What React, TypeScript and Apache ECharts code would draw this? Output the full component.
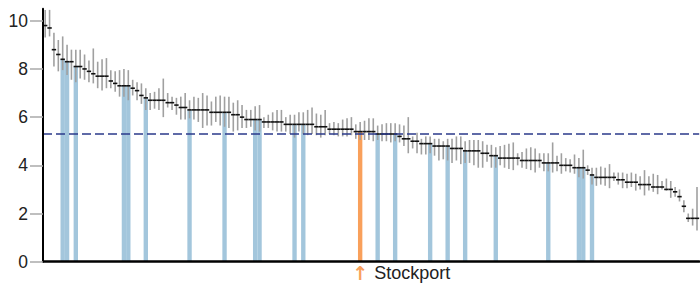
import React, { useEffect, useRef } from "react";
import * as echarts from "echarts";

const focusName = "Stockport";
const focusIndex = 72;

const categories: string[] = Array.from({ length: 150 }, (_, i) =>
  i === focusIndex ? focusName : `Area ${i + 1}`
);

const values = [
  9.8, 9.7, 8.8, 8.6, 8.4, 8.3, 8.3, 8.1, 8.1, 8.0,
  7.9, 7.8, 7.7, 7.7, 7.7, 7.5, 7.4, 7.3, 7.3, 7.3,
  7.2, 7.1, 6.9, 6.8, 6.7, 6.7, 6.7, 6.7, 6.6, 6.6,
  6.5, 6.4, 6.4, 6.3, 6.3, 6.3, 6.3, 6.3, 6.2, 6.2,
  6.2, 6.2, 6.2, 6.1, 6.1, 6.0, 5.9, 5.9, 5.9, 5.9,
  5.8, 5.8, 5.8, 5.8, 5.8, 5.7, 5.7, 5.7, 5.7, 5.7,
  5.7, 5.7, 5.6, 5.6, 5.6, 5.5, 5.5, 5.5, 5.5, 5.5,
  5.5, 5.4, 5.4, 5.4, 5.4, 5.4, 5.3, 5.3, 5.3, 5.3,
  5.3, 5.2, 5.1, 5.1, 5.0, 5.0, 4.9, 4.9, 4.9, 4.8,
  4.8, 4.8, 4.8, 4.7, 4.7, 4.7, 4.6, 4.6, 4.6, 4.6,
  4.5, 4.5, 4.4, 4.4, 4.3, 4.3, 4.3, 4.3, 4.3, 4.2,
  4.2, 4.2, 4.2, 4.2, 4.1, 4.1, 4.1, 4.1, 4.0, 4.0,
  4.0, 3.9, 3.9, 3.9, 3.8, 3.6, 3.5, 3.5, 3.5, 3.5,
  3.5, 3.4, 3.4, 3.3, 3.3, 3.3, 3.2, 3.2, 3.2, 3.1,
  3.1, 3.1, 3.0, 3.0, 2.9, 2.7, 2.3, 1.8, 1.8, 1.8,
];

const lower = [
  9.3, 9.35, 8.1, 7.9, 7.95, 7.75, 7.55, 7.45, 7.6, 7.55,
  7.45, 7.4, 7.2, 7.1, 7.2, 7.2, 7.05, 6.85, 6.85, 6.7,
  6.9, 6.7, 6.55, 6.3, 6.3, 6.35, 6.3, 6.0, 6.4, 6.3,
  6.1, 5.9, 5.9, 5.95, 5.9, 5.8, 5.55, 5.65, 5.65, 5.8,
  5.65, 5.6, 5.55, 5.4, 5.45, 5.55, 5.55, 5.6, 5.45, 5.4,
  5.55, 5.55, 5.45, 5.4, 5.4, 5.4, 5.3, 5.15, 5.4, 5.3,
  5.25, 5.3, 5.25, 5.15, 5.25, 5.3, 5.25, 5.2, 5.2, 5.2,
  5.25, 5.1, 5.05, 5.05, 5.05, 5.0, 5.05, 5.0, 5.0, 4.95,
  5.0, 4.95, 4.8, 4.5, 4.7, 4.5, 4.45, 4.45, 4.5, 4.4,
  4.2, 4.25, 4.2, 4.1, 4.2, 4.05, 4.1, 4.1, 4.0, 3.9,
  3.9, 4.15, 3.9, 3.9, 4.0, 3.9, 3.85, 3.8, 4.0, 3.9,
  3.85, 3.8, 3.7, 3.9, 3.75, 3.75, 3.7, 3.75, 3.65, 3.75,
  3.7, 3.65, 3.5, 3.45, 3.6, 3.2, 3.15, 3.2, 3.15, 3.05,
  3.35, 3.2, 3.05, 3.05, 3.1, 2.95, 3.0, 2.75, 2.95, 2.9,
  2.8, 3.0, 2.95, 2.65, 2.7, 2.5, 2.05, 1.65, 1.5, 1.3,
];

const upper = [
  10.45, 10.45, 9.5, 9.2, 9.35, 9.0, 8.8, 8.8, 8.8, 8.6,
  8.35, 8.85, 8.3, 8.4, 8.45, 7.95, 7.9, 7.95, 8.0, 7.95,
  7.55, 7.45, 7.4, 7.2, 7.0, 7.05, 7.2, 7.6, 7.0, 6.85,
  6.8, 6.85, 7.0, 6.7, 6.85, 6.8, 7.0, 6.9, 6.65, 6.85,
  6.9, 6.85, 6.85, 6.6, 6.7, 6.5, 6.3, 6.3, 6.45, 6.5,
  6.0, 6.1, 6.2, 6.3, 6.3, 6.0, 6.1, 6.1, 6.2, 6.2,
  6.3, 6.4, 6.15, 6.1, 6.3, 5.75, 5.8, 5.75, 5.9, 5.95,
  6.0, 5.7, 5.8, 5.85, 5.95, 5.95, 5.65, 5.7, 5.75, 5.75,
  5.75, 5.7, 5.65, 6.0, 5.2, 5.35, 5.1, 5.2, 5.2, 5.1,
  5.1, 5.0, 5.1, 5.1, 5.2, 5.2, 5.0, 5.05, 5.05, 5.05,
  5.0, 4.85, 4.85, 4.75, 4.8, 4.85, 4.9, 4.95, 4.5, 4.55,
  4.7, 4.75, 4.7, 4.5, 4.5, 4.5, 4.95, 4.4, 4.5, 4.3,
  4.25, 4.45, 4.3, 4.65, 4.0, 3.9, 3.9, 3.95, 3.9, 4.05,
  3.7, 3.7, 3.7, 3.65, 3.7, 3.65, 3.55, 3.8, 3.55, 3.65,
  3.6, 3.35, 3.45, 3.35, 3.1, 3.0, 2.55, 2.0, 2.2, 3.1,
];

const highlighted = [
  4, 5, 7, 18, 19, 23, 33, 41, 48, 49, 57, 59, 76, 80, 88, 92, 96, 103, 115,
  122, 123, 125,
];

const referenceValue = 5.3;
const yTicks = [0, 2, 4, 6, 8, 10];

const BLUE = "#a3c6dc";
const ORANGE = "#f9a05b";
const FONT = "'Liberation Sans', Arial, sans-serif";

export default function App() {
  const ref = useRef<HTMLDivElement>(null);

  useEffect(() => {
    if (!ref.current) return;
    const chart = echarts.init(ref.current, undefined, { renderer: "svg" });

    const barData = values.map((v, i) => {
      if (i === focusIndex) return { value: v, itemStyle: { color: ORANGE } };
      if (highlighted.includes(i)) return { value: v, itemStyle: { color: BLUE } };
      return null;
    });

    const ciData = values.map((v, i) => [i, lower[i], upper[i], v]);

    chart.setOption({
      animation: false,
      grid: { left: 43, right: 0, top: 8.7, bottom: 23.3, containLabel: false },
      xAxis: {
        type: "category",
        data: categories,
        z: 10,
        axisLine: { lineStyle: { color: "#000", width: 2.5 } },
        axisTick: { show: false },
        splitLine: { show: false },
        axisLabel: {
          interval: 0,
          align: "left",
          margin: 2,
          padding: [0, 0, 0, -7],
          formatter: (name: string) =>
            name === focusName ? `{a|↑}{b|${name}}` : "",
          rich: {
            a: {
              color: ORANGE,
              fontSize: 19,
              fontWeight: "bold",
              width: 14,
              align: "center",
              fontFamily: "'DejaVu Sans', sans-serif",
            },
            b: {
              color: "#222",
              fontSize: 18,
              padding: [0, 0, 0, 7],
              fontFamily: FONT,
            },
          },
        },
      },
      yAxis: {
        type: "value",
        min: 0,
        max: 10.5,
        interval: 2,
        z: 10,
        axisLine: { show: true, lineStyle: { color: "#000", width: 2 } },
        axisTick: {
          show: true,
          length: 13,
          customValues: yTicks,
          lineStyle: { color: "#aaa", width: 1.5 },
        },
        splitLine: { show: false },
        axisLabel: {
          customValues: yTicks,
          margin: 15,
          fontSize: 17.5,
          color: "#222",
          fontFamily: FONT,
          formatter: (v: number) => (yTicks.includes(v) ? String(v) : ""),
        },
      },
      series: [
        {
          type: "bar",
          data: barData,
          barWidth: "100%",
          z: 2,
        },
        {
          type: "custom",
          data: ciData,
          encode: { x: 0, y: [1, 2, 3] },
          clip: false,
          z: 3,
          renderItem: (params: any, api: any) => {
            const i = api.value(0);
            const lo = api.coord([i, api.value(1)]);
            const hi = api.coord([i, api.value(2)]);
            const mid = api.coord([i, api.value(3)]);
            const w = api.size([1, 0])[0];
            return {
              type: "group",
              children: [
                {
                  type: "line",
                  shape: { x1: lo[0], y1: lo[1], x2: hi[0], y2: hi[1] },
                  style: { stroke: "#a0a0a0", lineWidth: 1.6 },
                },
                {
                  type: "line",
                  shape: {
                    x1: mid[0] - w / 2,
                    y1: mid[1],
                    x2: mid[0] + w / 2,
                    y2: mid[1],
                  },
                  style: { stroke: "#111", lineWidth: 1.6 },
                },
              ],
            };
          },
          markLine: {
            silent: true,
            symbol: "none",
            label: { show: false },
            lineStyle: { color: "#2b3a8a", width: 1.5, type: [9, 4] },
            data: [{ yAxis: referenceValue }],
          },
        },
      ],
    });

    return () => chart.dispose();
  }, []);

  return (
    <div
      ref={ref}
      style={{ position: "absolute", left: 0, top: 0, width: 700, height: 285 }}
    />
  );
}
